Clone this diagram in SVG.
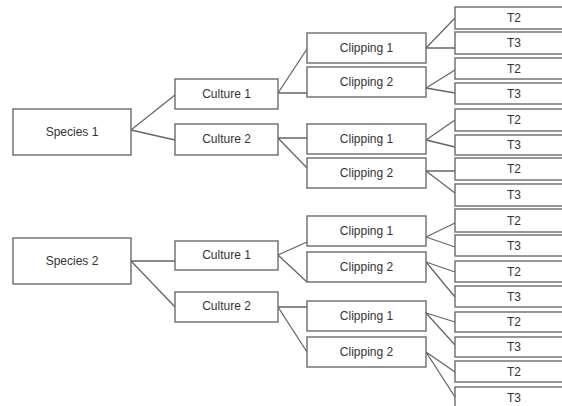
<svg xmlns="http://www.w3.org/2000/svg" width="562" height="406" viewBox="0 0 562 406">
<style>
rect{fill:#fff;stroke:#6b6b6b;stroke-width:1.4}
text{font-family:"Liberation Sans",Arial,sans-serif;font-size:12px;fill:#333;text-anchor:middle;dominant-baseline:central}
.c{fill:none;stroke:#666;stroke-width:1.3}
</style>
<rect x="0" y="0" width="562" height="406" style="stroke:none"/>
<g id="connectors" class="c">
<path d="M131,130L175,95M131,130L175,140"/>
<path d="M131,261L175,261M131,261L175,307"/>
<path d="M278,93L307,49M278,93L307,93M278,138L307,138M278,138L307,168"/>
<path d="M278,255L307,242M278,255L307,282M278,307L307,307M278,307L307,352"/>
<path d="M426,48L455,18M426,48L455,48M426,88L455,70M426,88L455,93"/>
<path d="M426,140L455,120M426,140L455,147M426,171L455,171M426,171L455,193"/>
<path d="M426,237L455,223M426,237L455,247M426,262L455,272M426,262L455,297"/>
<path d="M426,313L455,322M426,313L455,345M426,352L455,372M426,352L455,397"/>
</g>
<g id="species1"><rect x="13" y="109" width="118" height="46"/><text x="72" y="132">Species 1</text></g>
<g id="species2"><rect x="13" y="238" width="118" height="46"/><text x="72" y="261">Species 2</text></g>
<g id="s1c1"><rect x="175" y="79" width="103" height="30"/><text x="226.5" y="94">Culture 1</text></g>
<g id="s1c2"><rect x="175" y="124" width="103" height="31"/><text x="226.5" y="139">Culture 2</text></g>
<g id="s2c1"><rect x="175" y="241" width="103" height="29"/><text x="226.5" y="255">Culture 1</text></g>
<g id="s2c2"><rect x="175" y="292" width="103" height="30"/><text x="226.5" y="306">Culture 2</text></g>
<g id="s1c1k1"><rect x="307" y="33" width="119" height="30"/><text x="366.5" y="48">Clipping 1</text></g>
<g id="s1c1k2"><rect x="307" y="67" width="119" height="30"/><text x="366.5" y="82">Clipping 2</text></g>
<g id="s1c2k1"><rect x="307" y="124" width="119" height="30"/><text x="366.5" y="139">Clipping 1</text></g>
<g id="s1c2k2"><rect x="307" y="158" width="119" height="30"/><text x="366.5" y="173">Clipping 2</text></g>
<g id="s2c1k1"><rect x="307" y="216" width="119" height="30"/><text x="366.5" y="231">Clipping 1</text></g>
<g id="s2c1k2"><rect x="307" y="252" width="119" height="30"/><text x="366.5" y="267">Clipping 2</text></g>
<g id="s2c2k1"><rect x="307" y="301" width="119" height="30"/><text x="366.5" y="316">Clipping 1</text></g>
<g id="s2c2k2"><rect x="307" y="337" width="119" height="30"/><text x="366.5" y="352">Clipping 2</text></g>
<g id="t01"><rect x="455" y="7" width="119" height="22"/><text x="514" y="18">T2</text></g>
<g id="t02"><rect x="455" y="32" width="119" height="22"/><text x="514" y="43">T3</text></g>
<g id="t03"><rect x="455" y="58" width="119" height="21"/><text x="514" y="68.5">T2</text></g>
<g id="t04"><rect x="455" y="83" width="119" height="21"/><text x="514" y="93.5">T3</text></g>
<g id="t05"><rect x="455" y="109" width="119" height="22"/><text x="514" y="120">T2</text></g>
<g id="t06"><rect x="455" y="135" width="119" height="20"/><text x="514" y="145">T3</text></g>
<g id="t07"><rect x="455" y="158" width="119" height="22"/><text x="514" y="169">T2</text></g>
<g id="t08"><rect x="455" y="184" width="119" height="22"/><text x="514" y="195">T3</text></g>
<g id="t09"><rect x="455" y="209" width="119" height="23"/><text x="514" y="220.5">T2</text></g>
<g id="t10"><rect x="455" y="235" width="119" height="21"/><text x="514" y="245.5">T3</text></g>
<g id="t11"><rect x="455" y="261" width="119" height="21"/><text x="514" y="271.5">T2</text></g>
<g id="t12"><rect x="455" y="286" width="119" height="21"/><text x="514" y="296.5">T3</text></g>
<g id="t13"><rect x="455" y="312" width="119" height="20"/><text x="514" y="322">T2</text></g>
<g id="t14"><rect x="455" y="337" width="119" height="20"/><text x="514" y="347">T3</text></g>
<g id="t15"><rect x="455" y="361" width="119" height="21"/><text x="514" y="371.5">T2</text></g>
<g id="t16"><rect x="455" y="387" width="119" height="22"/><text x="514" y="398">T3</text></g>
</svg>
